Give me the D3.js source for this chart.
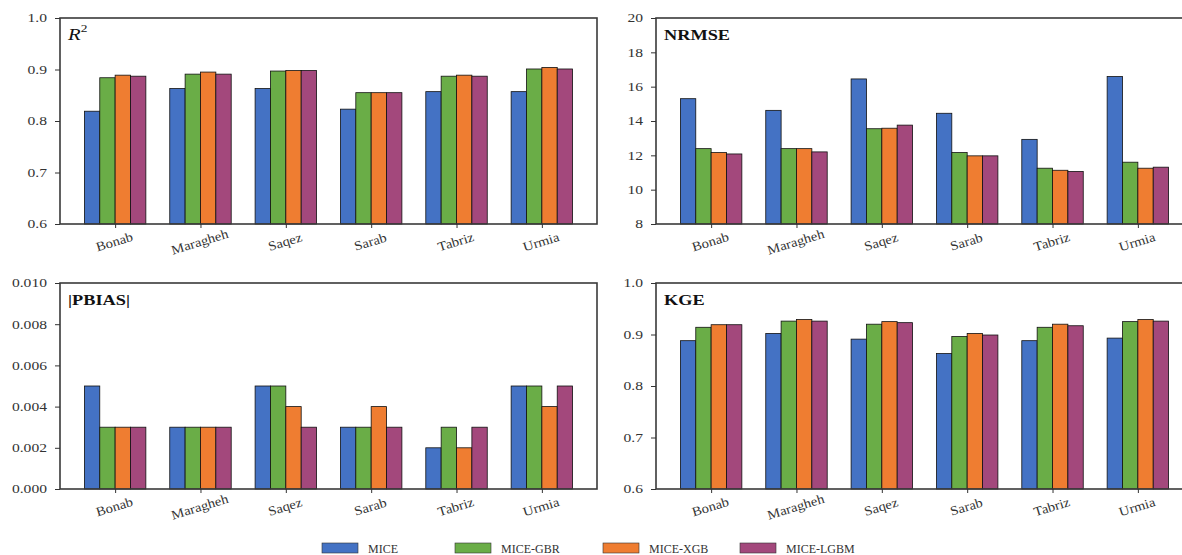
<!DOCTYPE html>
<html><head><meta charset="utf-8">
<script src="https://cdn.jsdelivr.net/npm/d3@7/dist/d3.min.js"></script>
<style>body{margin:0;background:#fff}svg{display:block}</style>
</head><body>
<svg id="c" width="1182" height="555"></svg>
<script>
const stations = ["Bonab","Maragheh","Saqez","Sarab","Tabriz","Urmia"];
const methods = ["MICE","MICE-GBR","MICE-XGB","MICE-LGBM"];
const colors = ["#4472c4","#6aad47","#ef7d31","#a3487c"];

const r2 = [
  [0.819,0.884,0.889,0.887],
  [0.863,0.891,0.895,0.891],
  [0.863,0.897,0.898,0.898],
  [0.823,0.855,0.855,0.855],
  [0.857,0.887,0.889,0.887],
  [0.857,0.901,0.904,0.901]];
const nrmse = [
  [15.30,12.39,12.16,12.08],
  [14.62,12.39,12.39,12.20],
  [16.45,13.55,13.58,13.76],
  [14.45,12.16,11.97,11.97],
  [12.93,11.25,11.13,11.06],
  [16.59,11.60,11.25,11.31]];
const pbias = [
  [0.005,0.003,0.003,0.003],
  [0.003,0.003,0.003,0.003],
  [0.005,0.005,0.004,0.003],
  [0.003,0.003,0.004,0.003],
  [0.002,0.003,0.002,0.003],
  [0.005,0.005,0.004,0.005]];
const kge = [
  [0.888,0.914,0.919,0.919],
  [0.902,0.926,0.929,0.926],
  [0.891,0.920,0.925,0.923],
  [0.863,0.896,0.902,0.899],
  [0.888,0.914,0.920,0.917],
  [0.893,0.925,0.929,0.926]];

const r2Ticks = [0.6,0.7,0.8,0.9,1.0];
const nrmseTicks = [8,10,12,14,16,18,20];
const pbiasTicks = [0,0.002,0.004,0.006,0.008,0.010];
const kgeTicks = [0.6,0.7,0.8,0.9,1.0];

const panels = [
  {data:r2, ticks:r2Ticks, fmt:d3.format(".1f"), title:"R", sup:"2", italic:true, x0:60, x1:597, y0:18, y1:224},
  {data:nrmse, ticks:nrmseTicks, fmt:d3.format("d"), title:"NRMSE", x0:656, x1:1193, y0:18, y1:224},
  {data:pbias, ticks:pbiasTicks, fmt:d3.format(".3f"), title:"|PBIAS|", x0:60, x1:597, y0:283, y1:489},
  {data:kge, ticks:kgeTicks, fmt:d3.format(".1f"), title:"KGE", x0:656, x1:1193, y0:283, y1:489}
];

const svg = d3.select("#c");
const font = "'Liberation Serif','DejaVu Serif',serif";
const bw = 0.18;
const SX = 1.3;

panels.forEach(p => {
  const ext = d3.extent(p.ticks);
  const x = d3.scaleLinear().domain([-0.646, 5.646]).range([p.x0, p.x1]);
  const y = d3.scaleLinear().domain(ext).range([p.y1, p.y0]);
  const g = svg.append("g");
  p.data.forEach((row, i) => {
    row.forEach((v, j) => {
      const cx = i + (j - 1.5) * bw;
      g.append("rect")
        .attr("x", x(cx - bw/2)).attr("width", x(cx + bw/2) - x(cx - bw/2))
        .attr("y", y(v)).attr("height", y(ext[0]) - y(v))
        .attr("fill", colors[j]).attr("stroke", "#111").attr("stroke-width", 0.8);
    });
  });
  g.append("rect").attr("x", p.x0).attr("y", p.y0).attr("width", p.x1 - p.x0).attr("height", p.y1 - p.y0)
    .attr("fill", "none").attr("stroke", "#3a3a3a").attr("stroke-width", 1.6);
  const ya = g.append("g").attr("transform", `translate(${p.x0},0)`)
    .call(d3.axisLeft(y).tickValues(p.ticks).tickFormat(p.fmt).tickSize(5).tickPadding(8));
  ya.select(".domain").remove();
  ya.selectAll("line").attr("stroke", "#333");
  ya.selectAll("text").attr("font-family", font).attr("font-size", 12).attr("fill", "#333")
    .each(function(){
      const t = d3.select(this);
      const tx = +t.attr("x");
      t.attr("x", null).attr("transform", `translate(${tx},0) scale(${SX},1)`);
    });
  const xa = g.append("g").attr("transform", `translate(0,${p.y1})`)
    .call(d3.axisBottom(x).tickValues(d3.range(stations.length)).tickFormat(i => stations[i]).tickSize(4).tickPadding(0));
  xa.select(".domain").remove();
  xa.selectAll("line").attr("stroke", "#333");
  xa.selectAll("text").attr("font-family", font).attr("font-size", 13).attr("fill", "#333")
    .attr("y", null).attr("dy", null)
    .attr("text-anchor", "middle")
    .attr("transform", `translate(0,22) rotate(-17) scale(1.12,1)`);
  const tt = g.append("text").attr("font-family", font).attr("fill", "#111")
    .attr("transform", `translate(${p.x0 + 8},${p.y0 + 22}) scale(1.22,1)`);
  if (p.italic) {
    tt.attr("font-size", 17).attr("font-style", "italic").text(p.title);
    tt.append("tspan").attr("font-size", 11).attr("dy", -8).attr("font-style", "normal").text(p.sup);
  } else {
    tt.attr("font-size", 15).attr("font-weight", "bold").text(p.title);
  }
});

const legX = d3.scaleOrdinal().domain(methods).range([322, 455, 603, 740]);
const lg = svg.append("g");
methods.forEach((m, j) => {
  lg.append("rect").attr("x", legX(m)).attr("y", 543).attr("width", 36).attr("height", 10)
    .attr("fill", colors[j]).attr("stroke", "#333").attr("stroke-width", 0.6);
  lg.append("text").attr("font-family", font).attr("font-size", 12).attr("fill", "#333")
    .attr("x", legX(m) + 46).attr("y", 553).text(m);
});
</script>
</body></html>
